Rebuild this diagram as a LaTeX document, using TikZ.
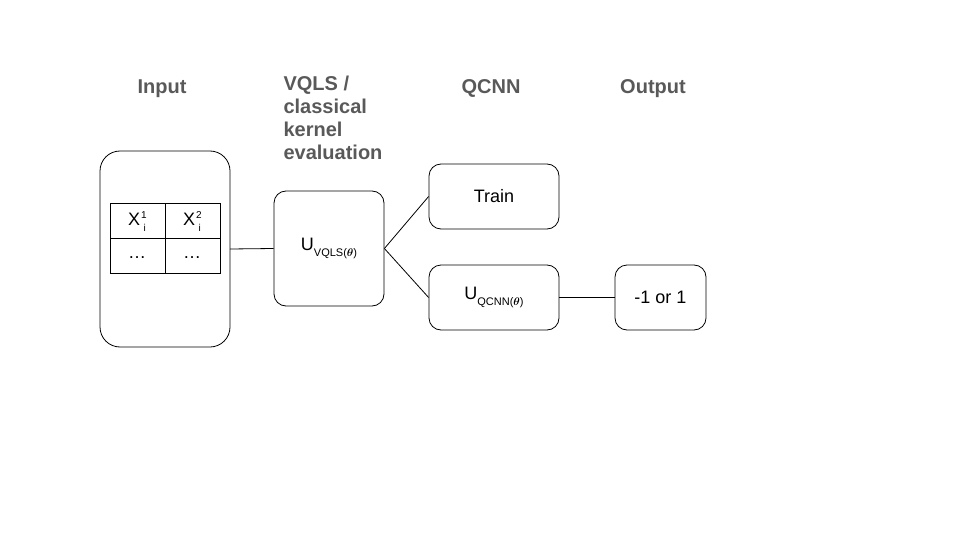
\documentclass[tikz,border=0pt]{standalone}
\usepackage{amsmath}
\usepackage{fontspec}
\setmainfont{Liberation Sans}
\usetikzlibrary{positioning}
\definecolor{headgray}{HTML}{595959}
\newcommand{\lowsub}[1]{{\fontsize{11}{12}\selectfont\raisebox{-6pt}{#1}}}
\newcommand{\supsub}[2]{{\fontsize{10}{10}\selectfont\kern1pt\raisebox{7pt}{#1}\kern-3pt\raisebox{-6pt}{#2}}}
\begin{document}
\begin{tikzpicture}[x=1pt,y=-1pt,
    box/.style={draw,rounded corners=12pt,line width=0.8pt},
    head/.style={text=headgray,font=\fontsize{20}{23}\selectfont\bfseries,anchor=base},
    txt/.style={font=\fontsize{18}{21}\selectfont},
    link/.style={line width=0.8pt}]
    \useasboundingbox (0,0) rectangle (960,540);

    % column headings
    \node[head] (hin) at (162,94) {Input};
    \node[head,align=left,anchor=north west,font=\fontsize{20}{23}\selectfont\bfseries] (hvqls) at (280,72) {VQLS /\\classical\\kernel\\evaluation};
    \node[head] (hq) at (491,94) {QCNN};
    \node[head] (hout) at (653,94) {Output};

    % boxes
    \draw[box,rounded corners=20pt] (100,151) rectangle (230,347);
    \coordinate (inr) at (230,249);
    \draw[line width=0.6pt] (110,203) rectangle (220,273) (110,238) -- (220,238) (165,203) -- (165,273);
    \node[txt] (x1) at (137,222) {X\supsub{1}{i}};
    \node[txt] (x2) at (192,222) {X\supsub{2}{i}};
    \node[txt] (d1) at (137,258) {\dots};
    \node[txt] (d2) at (192,258) {\dots};

    \node[box,minimum width=110pt,minimum height=115pt,txt] (vqls) at (329,248.5) {U\lowsub{VQLS($\boldsymbol{\theta}$)}};
    \node[box,minimum width=130pt,minimum height=65pt,txt] (train) at (494,196.5) {Train};
    \node[box,minimum width=130pt,minimum height=65pt,txt] (qcnn) at (494,297.5) {U\lowsub{QCNN($\boldsymbol{\theta}$)}};
    \node[box,minimum width=91pt,minimum height=65pt,txt] (out) at (660.5,297.5) {-1 or 1};

    % connectors
    \draw[link] (inr) -- (vqls.west);
    \draw[link] (vqls.east) -- (train.west);
    \draw[link] (vqls.east) -- (qcnn.west);
    \draw[link] (qcnn.east) -- (out.west);
\end{tikzpicture}
\end{document}
